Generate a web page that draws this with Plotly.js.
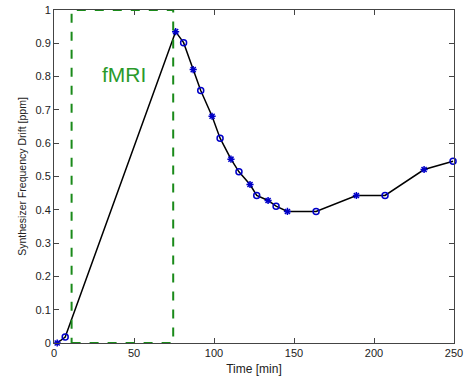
<!DOCTYPE html>
<html><head><meta charset="utf-8">
<script src="https://cdn.plot.ly/plotly-3.0.1.min.js"></script>
<style>html,body{margin:0;padding:0;background:#fff}#chart{width:468px;height:380px}</style>
</head><body><div id="chart"></div>
<script>
const timeMin = [2, 7, 76, 81, 87, 91.7, 98.8, 103.8, 110.6, 115.6, 122.5, 126.7, 133.8, 138.8, 145.9, 163.8, 189, 206.9, 231.3, 249.4];
const driftPpm = [0, 0.018, 0.935, 0.902, 0.821, 0.758, 0.681, 0.615, 0.552, 0.514, 0.476, 0.443, 0.428, 0.411, 0.395, 0.395, 0.443, 0.443, 0.521, 0.546];
const markerKinds = ['asterisk-open','circle-open'];
const fmriStart = 11, fmriEnd = 74.5, fmriLow = 0, fmriHigh = 1;
const xTicks = [0, 50, 100, 150, 200, 250];
const yTicks = [0, 0.1, 0.2, 0.3, 0.4, 0.5, 0.6, 0.7, 0.8, 0.9, 1];
const yTickText = ['0','0.1','0.2','0.3','0.4','0.5','0.6','0.7','0.8','0.9','1'];

const symbols = timeMin.map((_, i) => markerKinds[i % 2]);

const traces = [
  {x: timeMin, y: driftPpm, mode: 'lines', line: {color: '#000', width: 1.5}, hoverinfo: 'skip'},
  {x: timeMin, y: driftPpm, mode: 'markers', cliponaxis: false,
   marker: {symbol: symbols, size: 6, color: '#0000c8', line: {color: '#0000c8', width: 1.5}}}
];

const axisCommon = {
  showgrid: false, zeroline: false, showline: true, linecolor: '#444', linewidth: 1,
  mirror: 'ticks', ticks: 'inside', ticklen: 5, tickcolor: '#444',
  tickfont: {family: 'Liberation Sans, Arial, sans-serif', size: 11, color: '#222'}
};

const layout = {
  width: 468, height: 380,
  margin: {l: 54, r: 14, t: 10, b: 37},
  paper_bgcolor: '#fff', plot_bgcolor: '#fff',
  showlegend: false,
  xaxis: Object.assign({}, axisCommon, {range: [0, 250], tickvals: xTicks,
    title: {text: 'Time [min]', standoff: 6, font: {family: 'Liberation Sans, Arial, sans-serif', size: 12, color: '#222'}}}),
  yaxis: Object.assign({}, axisCommon, {range: [0, 1], tickvals: yTicks, ticktext: yTickText,
    title: {text: 'Synthesizer Frequency Drift [ppm]', standoff: 6, font: {family: 'Liberation Sans, Arial, sans-serif', size: 10.5, color: '#222'}}}),
  shapes: [{type: 'rect', xref: 'x', yref: 'y', x0: fmriStart, x1: fmriEnd, y0: fmriLow, y1: fmriHigh,
    line: {color: '#1a8a1a', width: 2, dash: 'dash'}, fillcolor: 'rgba(0,0,0,0)'}],
  annotations: [{x: 44, y: 0.805, xref: 'x', yref: 'y', text: 'fMRI', showarrow: false,
    font: {family: 'Liberation Sans, Arial, sans-serif', size: 21, color: '#2a9a2a'}}]
};

Plotly.newPlot('chart', traces, layout, {displayModeBar: false, staticPlot: true});
</script></body></html>
